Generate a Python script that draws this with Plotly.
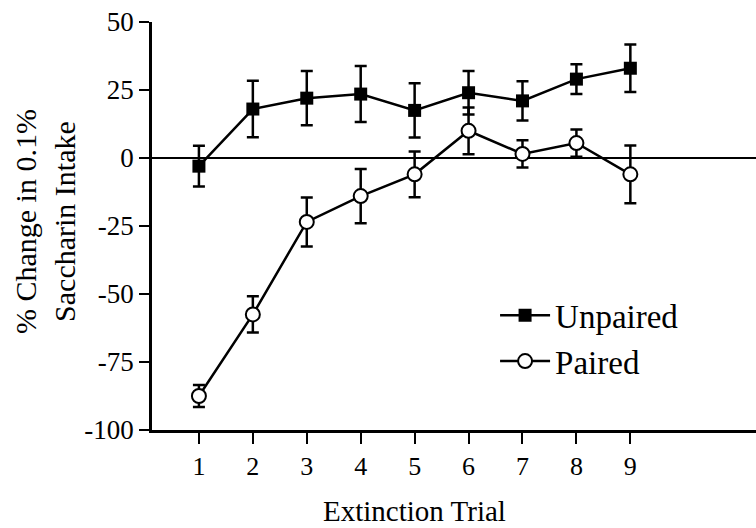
import plotly.graph_objects as go

trials = [1, 2, 3, 4, 5, 6, 7, 8, 9]
unpaired = [-3, 18, 22, 23.5, 17.5, 24, 21, 29, 33]
unpaired_err = [7.5, 10.4, 10, 10.3, 10, 8, 7.2, 5.5, 8.7]
paired = [-87.5, -57.5, -23.5, -14, -6, 10, 1.5, 5.5, -6]
paired_err = [4, 6.7, 9, 10, 8.4, 8.6, 5, 5, 10.6]
ytick_vals = [-100, -75, -50, -25, 0, 25, 50]
ytick_text = ["-100", "-75", "-50", "-25", "0", "25", "50"]

FONT = "Times New Roman, Liberation Serif, serif"

fig = go.Figure()
fig.add_trace(go.Scatter(
    x=trials, y=unpaired, name="Unpaired", mode="lines+markers",
    line=dict(color="black", width=2.5),
    marker=dict(symbol="square", size=13, color="black"),
    error_y=dict(type="data", array=unpaired_err, color="black", thickness=2.5, width=6),
))
fig.add_trace(go.Scatter(
    x=trials, y=paired, name="Paired", mode="lines+markers",
    line=dict(color="black", width=2.5),
    marker=dict(symbol="circle", size=14, color="white", line=dict(color="black", width=2)),
    error_y=dict(type="data", array=paired_err, color="black", thickness=2.5, width=6),
))

fig.update_layout(
    width=756, height=528,
    margin=dict(l=152, r=0, t=22, b=98),
    plot_bgcolor="white", paper_bgcolor="white",
    font=dict(family=FONT, color="black", size=26),
    showlegend=True,
    legend=dict(x=0.568, y=0.225, xanchor="left", yanchor="middle",
                font=dict(size=33, family=FONT), bgcolor="rgba(0,0,0,0)",
                itemwidth=50, tracegroupgap=0),
    xaxis=dict(range=[0.13, 11.33], tickvals=trials, ticks="outside", ticklen=11,
               tickwidth=2, tickcolor="black", showline=True, linewidth=2.5,
               linecolor="black", showgrid=False, zeroline=False,
               tickfont=dict(size=26, family=FONT)),
    yaxis=dict(range=[-100, 50], tickvals=ytick_vals, ticktext=ytick_text,
               ticks="outside", ticklen=10, tickwidth=2, tickcolor="black",
               showline=True, linewidth=2.5, linecolor="black", showgrid=False,
               zeroline=True, zerolinecolor="black", zerolinewidth=2,
               tickfont=dict(size=27, family=FONT)),
    annotations=[
        dict(text="Extinction Trial", x=5, xref="x", y=-0.199, yref="paper",
             xanchor="center", yanchor="middle", showarrow=False,
             font=dict(size=29, family=FONT)),
        dict(text="% Change in 0.1%<br>Saccharin Intake", x=-0.177, xref="paper",
             y=0.51, yref="paper", xanchor="center", yanchor="middle",
             textangle=-90, showarrow=False, font=dict(size=30, family=FONT)),
    ],
)

fig.write_html("out.html")
